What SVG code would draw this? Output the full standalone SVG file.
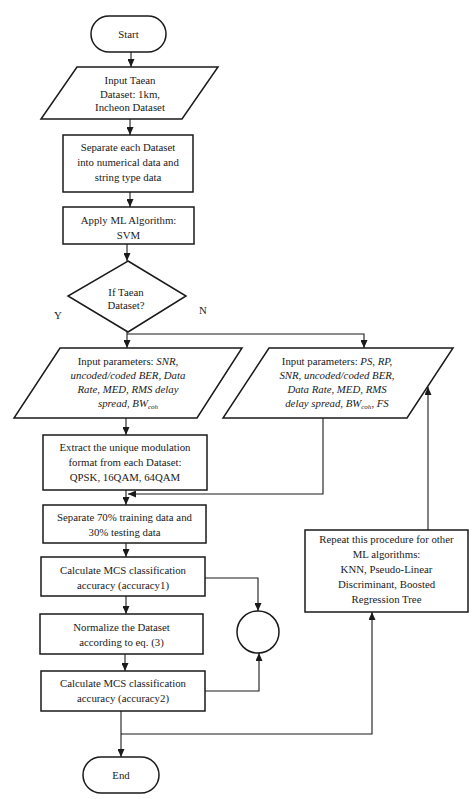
<svg xmlns="http://www.w3.org/2000/svg" width="474" height="799" viewBox="0 0 474 799">
<style>
.s{fill:#fff;stroke:#1a1a1a;stroke-width:1.5}
.t{font-family:"Liberation Serif","Times New Roman",serif;font-size:10.8px;fill:#1a1a1a;text-anchor:middle}
.i{font-style:italic}
.sub{font-size:7px}
.c{fill:none;stroke:#1a1a1a;stroke-width:1.1}
</style>
<defs>
<marker id="a" markerWidth="8" markerHeight="7" refX="8" refY="3.5" orient="auto" markerUnits="userSpaceOnUse">
<path d="M0,0 L8,3.5 L0,7 z" fill="#1a1a1a"/>
</marker>
</defs>
<rect width="474" height="799" fill="#fff"/>
<g id="connectors">
<path class="c" d="M131,52 V67" marker-end="url(#a)"/>
<path class="c" d="M130,119 V135" marker-end="url(#a)"/>
<path class="c" d="M130,192 V207" marker-end="url(#a)"/>
<path class="c" d="M127,244 V261" marker-end="url(#a)"/>
<path class="c" d="M127,332 V348" marker-end="url(#a)"/>
<path class="c" d="M127,334 H364 V348" marker-end="url(#a)"/>
<path class="c" d="M126,418 V435" marker-end="url(#a)"/>
<path class="c" d="M126,490 V505" marker-end="url(#a)"/>
<path class="c" d="M323,418 V494 H128" marker-end="url(#a)"/>
<path class="c" d="M126,543 V557" marker-end="url(#a)"/>
<path class="c" d="M126,596 V614" marker-end="url(#a)"/>
<path class="c" d="M125,654 V671" marker-end="url(#a)"/>
<path class="c" d="M205,578 H258 V611" marker-end="url(#a)"/>
<path class="c" d="M205,691 H259 V653" marker-end="url(#a)"/>
<path class="c" d="M121,711 V757" marker-end="url(#a)"/>
<path class="c" d="M121,734 H372 V612" marker-end="url(#a)"/>
<path class="c" d="M428,530 V387" marker-end="url(#a)"/>
</g>
<g id="start">
<rect class="s" x="91" y="16" width="75" height="36" rx="18"/>
<text class="t" x="128.5" y="38">Start</text>
</g>
<g id="input-dataset">
<polygon class="s" points="77,67 218,67 182,119 41,119"/>
<text class="t" x="130" y="84">Input Taean</text>
<text class="t" x="130" y="97.5">Dataset: 1km,</text>
<text class="t" x="130" y="111">Incheon Dataset</text>
</g>
<g id="separate">
<rect class="s" x="63" y="135" width="130" height="57"/>
<text class="t" x="128" y="151">Separate each Dataset</text>
<text class="t" x="128" y="166">into numerical data and</text>
<text class="t" x="128" y="181">string type data</text>
</g>
<g id="apply">
<rect class="s" x="63" y="207" width="131" height="37"/>
<text class="t" x="128.5" y="224">Apply ML Algorithm:</text>
<text class="t" x="128.5" y="239">SVM</text>
</g>
<g id="decision">
<polygon class="s" points="128,261 186,296 128,332 68,296"/>
<text class="t" x="126" y="296">If Taean</text>
<text class="t" x="126" y="309">Dataset?</text>
<text class="t" x="58" y="319">Y</text>
<text class="t" x="203" y="314">N</text>
</g>
<g id="params-taean">
<polygon class="s" points="60,348 242,348 197,418 14,418"/>
<text class="t" x="128" y="365">Input parameters: <tspan class="i">SNR,</tspan></text>
<text class="t i" x="128" y="379">uncoded/coded BER, Data</text>
<text class="t i" x="128" y="393">Rate, MED, RMS delay</text>
<text class="t i" x="128" y="407">spread, BW<tspan class="sub" dy="2">coh</tspan></text>
</g>
<g id="params-incheon">
<polygon class="s" points="269,348 453,348 407,418 223,418"/>
<text class="t" x="337" y="365">Input parameters: <tspan class="i">PS, RP,</tspan></text>
<text class="t i" x="337" y="379">SNR, uncoded/coded BER,</text>
<text class="t i" x="337" y="393">Data Rate, MED, RMS</text>
<text class="t i" x="337" y="407">delay spread, BW<tspan class="sub" dy="2">coh</tspan><tspan dy="-2">, FS</tspan></text>
</g>
<g id="extract">
<rect class="s" x="43" y="435" width="164" height="55"/>
<text class="t" x="125" y="451">Extract the unique modulation</text>
<text class="t" x="125" y="466">format from each Dataset:</text>
<text class="t" x="125" y="481">QPSK, 16QAM, 64QAM</text>
</g>
<g id="split">
<rect class="s" x="43" y="505" width="163" height="38"/>
<text class="t" x="124.5" y="521">Separate 70% training data and</text>
<text class="t" x="124.5" y="536">30% testing data</text>
</g>
<g id="calc1">
<rect class="s" x="41" y="557" width="164" height="39"/>
<text class="t" x="123" y="574">Calculate MCS classification</text>
<text class="t" x="123" y="589">accuracy (accuracy1)</text>
</g>
<g id="normalize">
<rect class="s" x="40" y="614" width="163" height="40"/>
<text class="t" x="121.5" y="631">Normalize the Dataset</text>
<text class="t" x="121.5" y="646">according to eq. (3)</text>
</g>
<g id="calc2">
<rect class="s" x="41" y="671" width="164" height="40"/>
<text class="t" x="123" y="687">Calculate MCS classification</text>
<text class="t" x="123" y="702">accuracy (accuracy2)</text>
</g>
<g id="compare">
<circle class="s" cx="258" cy="632" r="21"/>
</g>
<g id="repeat">
<rect class="s" x="305" y="530" width="163" height="82"/>
<text class="t" x="386.5" y="543">Repeat this procedure for other</text>
<text class="t" x="386.5" y="558">ML algorithms:</text>
<text class="t" x="386.5" y="573">KNN, Pseudo-Linear</text>
<text class="t" x="386.5" y="588">Discriminant, Boosted</text>
<text class="t" x="386.5" y="603">Regression Tree</text>
</g>
<g id="end">
<rect class="s" x="83" y="757" width="76" height="36" rx="18"/>
<text class="t" x="121" y="779">End</text>
</g>
</svg>
